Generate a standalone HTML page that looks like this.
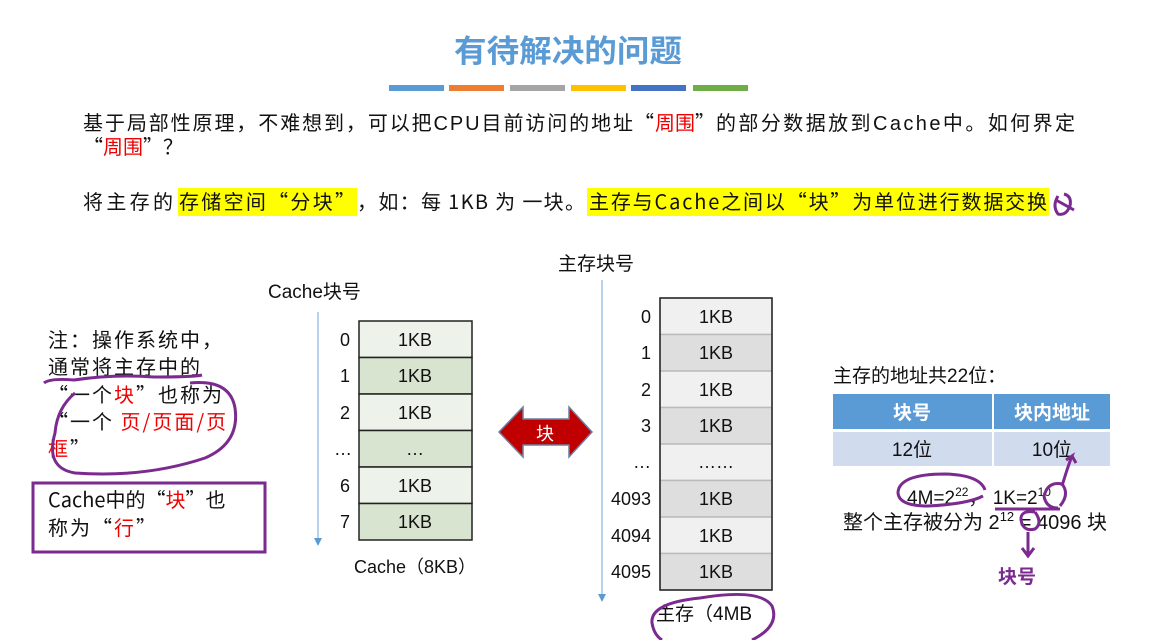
<!DOCTYPE html>
<html><head><meta charset="utf-8"><style>
html,body{margin:0;padding:0;background:#fff;}
svg{display:block;font-family:"Liberation Sans","Noto Sans CJK SC",sans-serif;}
.q{font-family:"Noto Sans CJK SC",sans-serif;}
</style></head><body>
<svg width="1162" height="640" viewBox="0 0 1162 640" xmlns="http://www.w3.org/2000/svg">
<rect width="1162" height="640" fill="#fff"/>
<text x="568" y="62" text-anchor="middle" font-size="31" font-weight="bold" fill="#5b9bd5" font-family="Noto Sans CJK SC,sans-serif" textLength="228" lengthAdjust="spacingAndGlyphs">有待解决的问题</text>
<rect x="389" y="85" width="55" height="6" fill="#5b9bd5"/>
<rect x="449" y="85" width="55" height="6" fill="#ed7d31"/>
<rect x="510" y="85" width="55" height="6" fill="#a5a5a5"/>
<rect x="571" y="85" width="55" height="6" fill="#ffc000"/>
<rect x="631" y="85" width="55" height="6" fill="#4472c4"/>
<rect x="693" y="85" width="55" height="6" fill="#70ad47"/>
<g font-size="20" fill="#111">
<text x="83" y="130" textLength="550">基于局部性原理，不难想到，可以把CPU目前访问的地址</text>
<text x="634" y="130" class="q">“</text>
<text x="655" y="130" fill="#e00" textLength="40">周围</text>
<text x="695" y="130" class="q">”</text>
<text x="716" y="130" textLength="359">的部分数据放到Cache中。如何界定</text>
<text x="83" y="154" class="q">“<tspan fill="#e00">周围</tspan>”？</text>
<rect x="178" y="188" width="179" height="28" fill="#ffff00"/>
<rect x="587" y="188" width="462" height="28" fill="#ffff00"/>
<text x="83" y="209" textLength="90">将主存的</text>
<text x="179" y="209" class="q" textLength="176">存储空间“分块”</text>
<text x="357" y="209" class="q" textLength="228">，如：每 1KB 为 一块。</text>
<text x="589" y="209" class="q" textLength="458">主存与Cache之间以“块”为单位进行数据交换</text>
</g>
<path d="M1058 196 q-6 10 0 18 q8 2 12 -8 q2 -10 -6 -12 M1056 200 l18 10" stroke="#7b2a8f" stroke-width="3" fill="none"/>
<g font-size="20" fill="#111" class="q" letter-spacing="2">
<text x="48" y="347">注：操作系统中，</text>
<text x="48" y="374">通常将主存中的</text>
<text x="48" y="402">“一个<tspan fill="#e00">块</tspan>”也称为</text>
<text x="48" y="429">“一个 <tspan fill="#e00">页/页面/页</tspan></text>
<text x="48" y="456"><tspan fill="#e00">框</tspan>”</text>
<text x="48" y="507" letter-spacing="0">Cache中的“<tspan fill="#e00">块</tspan>”也</text>
<text x="48" y="535">称为“<tspan fill="#e00">行</tspan>”</text>
</g>
<path d="M44 383 q6 -5 30 -3 q40 -6 80 -3 q40 0 48 -2 M190 383 q40 -4 45 25 q5 35 -30 50 q-60 20 -130 15 q-30 -5 -20 -40 q2 -25 20 -40" stroke="#7b2a8f" stroke-width="3" fill="none"/>
<rect x="33" y="483" width="232" height="69" fill="none" stroke="#7b2a8f" stroke-width="3"/>
<text x="268" y="298" font-size="19" fill="#111">Cache块号</text>
<line x1="318" y1="312" x2="318" y2="540" stroke="#9dc3e6" stroke-width="1.5"/>
<path d="M314 538 l4 8 l4 -8z" fill="#5b9bd5"/>
<g stroke="#222" stroke-width="1.5">
<rect x="359" y="321" width="113" height="36.5" fill="#edf2ea"/>
<rect x="359" y="357.5" width="113" height="36.5" fill="#d8e4d0"/>
<rect x="359" y="394" width="113" height="36.5" fill="#edf2ea"/>
<rect x="359" y="430.5" width="113" height="36.5" fill="#d8e4d0"/>
<rect x="359" y="467" width="113" height="36.5" fill="#edf2ea"/>
<rect x="359" y="503.5" width="113" height="36.5" fill="#d8e4d0"/>
</g>
<g font-size="18" fill="#111" text-anchor="middle">
<text x="415" y="346">1KB</text><text x="415" y="382">1KB</text><text x="415" y="419">1KB</text>
<text x="415" y="455">…</text><text x="415" y="492">1KB</text><text x="415" y="528">1KB</text>
<text x="345" y="346">0</text><text x="345" y="382">1</text><text x="345" y="419">2</text>
<text x="343" y="455">…</text><text x="345" y="492">6</text><text x="345" y="528">7</text>
</g>
<text x="354" y="573" font-size="18" fill="#111">Cache（8KB）</text>
<path d="M499 432 L523 407 L523 419 L569 419 L569 407 L592 432 L569 457 L569 445 L523 445 L523 457 Z" fill="#c00000" stroke="#6f7fa0" stroke-width="1.5"/>
<text x="545" y="440" font-size="18" fill="#fff" text-anchor="middle">块</text>
<text x="558" y="270" font-size="19" fill="#111">主存块号</text>
<line x1="602" y1="280" x2="602" y2="596" stroke="#9dc3e6" stroke-width="1.5"/>
<path d="M598 594 l4 8 l4 -8z" fill="#5b9bd5"/>
<g stroke="#bbb" stroke-width="1.5">
<rect x="660" y="298" width="112" height="36.5" fill="#f0f0f0"/>
<rect x="660" y="334.5" width="112" height="36.5" fill="#dedede"/>
<rect x="660" y="371" width="112" height="36.5" fill="#f0f0f0"/>
<rect x="660" y="407.5" width="112" height="36.5" fill="#dedede"/>
<rect x="660" y="444" width="112" height="36.5" fill="#f0f0f0"/>
<rect x="660" y="480.5" width="112" height="36.5" fill="#dedede"/>
<rect x="660" y="517" width="112" height="36.5" fill="#f0f0f0"/>
<rect x="660" y="553.5" width="112" height="36.5" fill="#dedede"/>
</g>
<rect x="660" y="298" width="112" height="292" fill="none" stroke="#222" stroke-width="1.5"/>
<g font-size="18" fill="#111" text-anchor="middle">
<text x="716" y="323">1KB</text><text x="716" y="359">1KB</text><text x="716" y="396">1KB</text><text x="716" y="432">1KB</text>
<text x="716" y="468">……</text><text x="716" y="505">1KB</text><text x="716" y="542">1KB</text><text x="716" y="578">1KB</text>
</g>
<g font-size="18" fill="#111" text-anchor="end">
<text x="651" y="323">0</text><text x="651" y="359">1</text><text x="651" y="396">2</text><text x="651" y="432">3</text>
<text x="651" y="468">…</text><text x="651" y="505">4093</text><text x="651" y="542">4094</text><text x="651" y="578">4095</text>
</g>
<text x="656" y="620" font-size="19" fill="#111">主存（4MB</text>
<path d="M700 598 q60 -10 72 8 q8 20 -20 34 M700 598 q-50 5 -48 25 q2 12 10 17" stroke="#7b2a8f" stroke-width="3" fill="none"/>
<text x="833" y="382" font-size="19" fill="#111">主存的地址共22位：</text>
<rect x="833" y="394" width="159" height="35" fill="#5b9bd5"/>
<rect x="994" y="394" width="116" height="35" fill="#5b9bd5"/>
<rect x="833" y="432" width="159" height="34" fill="#d0dbee"/>
<rect x="994" y="432" width="116" height="34" fill="#d0dbee"/>
<g font-size="19" text-anchor="middle">
<text x="912" y="419" fill="#fff" font-weight="bold">块号</text>
<text x="1052" y="419" fill="#fff" font-weight="bold">块内地址</text>
<text x="912" y="456" fill="#111">12位</text>
<text x="1052" y="456" fill="#111">10位</text>
</g>
<text x="907" y="504" font-size="19" fill="#111">4M=2<tspan font-size="12" dy="-8">22</tspan><tspan dy="8">，  1K=2</tspan><tspan font-size="12" dy="-8">10</tspan></text>
<text x="843" y="529" font-size="20" fill="#111">整个主存被分为 2<tspan font-size="13" dy="-8">12</tspan><tspan dy="8"> = 4096 块</tspan></text>
<g stroke="#7b2a8f" stroke-width="3" fill="none">
<path d="M985 490 q-5 -15 -40 -16 q-45 0 -47 18 q0 14 30 14 q40 -2 55 -10"/>
<path d="M995 509 l65 0"/>
<path d="M1058 508 q-12 0 -14 -12 q4 -15 18 -12 q8 10 -2 22 M1062 486 q6 -20 10 -30 l-6 4 m6 -4 l4 7"/>
<path d="M1035 512 q-15 -2 -14 8 q2 12 14 9 q8 -6 0 -17 M1028 532 l0 22 m-6 -6 l6 8 l6 -8"/>
</g>
<text x="998" y="583" font-size="19" fill="#7b2a8f" font-weight="bold">块号</text>
</svg>
</body></html>
